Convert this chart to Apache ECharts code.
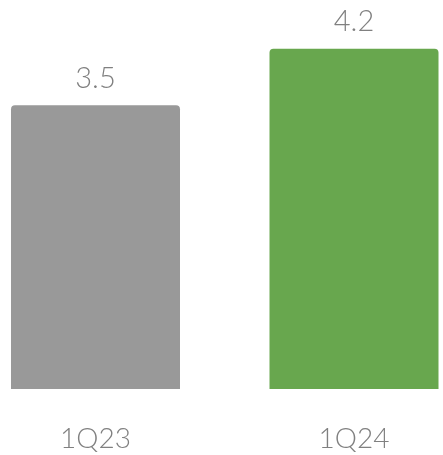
<!DOCTYPE html>
<html>
<head>
<meta charset="utf-8">
<style>
  html, body { margin: 0; padding: 0; background: #ffffff; }
  #chart { width: 443px; height: 455px; }
</style>
<script src="https://cdn.jsdelivr.net/npm/echarts@6/dist/echarts.min.js"></script>
</head>
<body>
<div id="chart"></div>
<script>
  // Quarterly values
  const categories = ['1Q23', '1Q24'];
  const values = [3.5, 4.2];
  const barColors = ['#999999', '#68a74e'];

  const chart = echarts.init(document.getElementById('chart'));
  chart.setOption({
    animation: false,
    // categories sit on the grid edges, so the grid spans bar centre to bar centre
    grid: { left: 95.5, top: 0, width: 258.5, height: 389 },
    xAxis: {
      type: 'category',
      data: categories,
      boundaryGap: false,
      axisLine: { show: false },
      axisTick: { show: false },
      splitLine: { show: false },
      axisLabel: {
        margin: 36,
        color: '#808080',
        fontSize: 28,
        fontWeight: 300,
        fontFamily: 'Lato, "Noto Sans", sans-serif'
      }
    },
    yAxis: {
      type: 'value',
      min: 0,
      max: 4.8,
      show: false,
      splitLine: { show: false }
    },
    series: [{
      type: 'bar',
      barWidth: 169,
      clip: false,
      data: values.map((v, i) => ({ value: v, itemStyle: { color: barColors[i] } })),
      itemStyle: { borderRadius: [4, 4, 0, 0] },
      label: {
        show: true,
        position: 'top',
        distance: 12,
        color: '#808080',
        fontSize: 29,
        fontWeight: 300,
        fontFamily: 'Lato, "Noto Sans", sans-serif'
      }
    }]
  });
</script>
</body>
</html>
